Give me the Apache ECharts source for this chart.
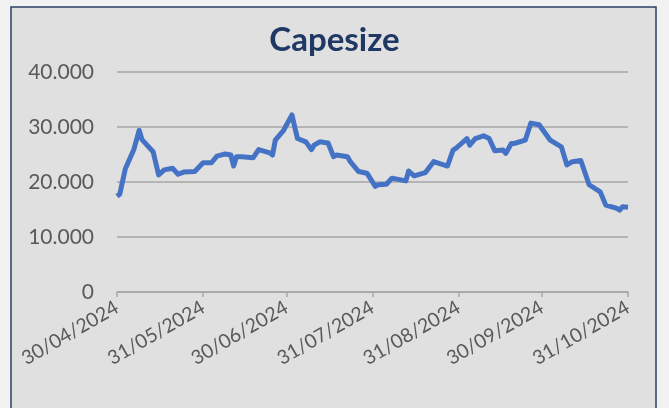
<!DOCTYPE html>
<html>
<head>
<meta charset="utf-8">
<script src="https://cdn.jsdelivr.net/npm/echarts@6/dist/echarts.min.js"></script>
<style>
  html, body { margin: 0; padding: 0; background: #f2f2f2; }
  #main { width: 669px; height: 408px; }
</style>
</head>
<body>
<div id="main"></div>
<script>
// Capesize rates
const dates = [
  '2024-04-30', '2024-05-01', '2024-05-03', '2024-05-06', '2024-05-08', '2024-05-09',
  '2024-05-13', '2024-05-15', '2024-05-17', '2024-05-20', '2024-05-22', '2024-05-24',
  '2024-05-28', '2024-05-31', '2024-06-03', '2024-06-05', '2024-06-08', '2024-06-10',
  '2024-06-11', '2024-06-12', '2024-06-14', '2024-06-18', '2024-06-20', '2024-06-24',
  '2024-06-25', '2024-06-26', '2024-06-29', '2024-07-02', '2024-07-03', '2024-07-04',
  '2024-07-07', '2024-07-09', '2024-07-10', '2024-07-12', '2024-07-15', '2024-07-17',
  '2024-07-18', '2024-07-22', '2024-07-23', '2024-07-26', '2024-07-29', '2024-08-01',
  '2024-08-02', '2024-08-05', '2024-08-07', '2024-08-12', '2024-08-13', '2024-08-15',
  '2024-08-19', '2024-08-22', '2024-08-27', '2024-08-29', '2024-08-30', '2024-09-01',
  '2024-09-03', '2024-09-04', '2024-09-06', '2024-09-09', '2024-09-11', '2024-09-13',
  '2024-09-16', '2024-09-17', '2024-09-19', '2024-09-20', '2024-09-24', '2024-09-26',
  '2024-09-29', '2024-10-03', '2024-10-07', '2024-10-09', '2024-10-11', '2024-10-14',
  '2024-10-17', '2024-10-21', '2024-10-23', '2024-10-27', '2024-10-28', '2024-10-29',
  '2024-10-31'
];
const capesize = [
  17400, 17800, 22400, 25800, 29400, 27700,
  25500, 21300, 22200, 22500, 21400, 21800,
  21900, 23500, 23500, 24700, 25100, 24900,
  22900, 24600, 24600, 24400, 25900, 25300,
  24900, 27600, 29400, 32200, 30000, 27900,
  27300, 25900, 26700, 27300, 27100, 24600,
  24900, 24600, 23700, 21900, 21600, 19200,
  19500, 19600, 20700, 20200, 22000, 21100,
  21700, 23700, 22900, 25800, 26100, 27000,
  27900, 26700, 27900, 28400, 27900, 25700,
  25800, 25200, 27000, 27000, 27600, 30700,
  30400, 27600, 26400, 23100, 23700, 23900,
  19500, 18200, 15800, 15200, 14900, 15500,
  15400
];
const tickDates = ['2024-04-30', '2024-05-31', '2024-06-30', '2024-07-31', '2024-08-31', '2024-09-30', '2024-10-31'];

const toTime = s => Date.UTC(+s.slice(0, 4), +s.slice(5, 7) - 1, +s.slice(8, 10));
const pad = n => String(n).padStart(2, '0');
const fmtDate = v => {
  const d = new Date(v);
  return pad(d.getUTCDate()) + '/' + pad(d.getUTCMonth() + 1) + '/' + d.getUTCFullYear();
};
const fmtNum = v => v === 0 ? '0' : String(v).replace(/\B(?=(\d{3})+(?!\d))/g, '.');

const chart = echarts.init(document.getElementById('main'));
const font = 'Lato';
const ticks = tickDates.map(toTime);

chart.setOption({
  backgroundColor: '#f2f2f2',
  animation: false,
  graphic: [{
    type: 'rect',
    z: -10,
    shape: { x: 11, y: 7, width: 645, height: 420 },
    style: { fill: '#e0e0e0', stroke: '#2b3f66', lineWidth: 1.5 }
  }],
  title: {
    text: 'Capesize',
    left: 'center',
    top: 19,
    textStyle: { fontFamily: font, fontWeight: 'bold', fontSize: 33, color: '#1f3864' }
  },
  grid: { left: 117, right: 41, top: 72, bottom: 116 },
  xAxis: {
    type: 'value',
    min: ticks[0],
    max: ticks[ticks.length - 1],
    axisLine: { lineStyle: { color: '#a6a6a6', width: 1.5 } },
    axisTick: { customValues: ticks, length: 5, lineStyle: { color: '#a6a6a6', width: 1.5 } },
    axisLabel: {
      customValues: ticks,
      rotate: 30,
      margin: 14,
      formatter: fmtDate,
      fontFamily: font,
      fontSize: 19.5,
      color: '#595959'
    },
    splitLine: { show: false }
  },
  yAxis: {
    type: 'value',
    min: 0,
    max: 40000,
    interval: 10000,
    axisLine: { show: false },
    axisTick: { show: false },
    axisLabel: { formatter: fmtNum, margin: 23, fontFamily: font, fontSize: 21, color: '#595959' },
    splitLine: { lineStyle: { color: '#a6a6a6', width: 1.5 } }
  },
  series: [{
    name: 'Capesize',
    type: 'line',
    data: dates.map((d, i) => [toTime(d), capesize[i]]),
    showSymbol: false,
    lineStyle: { color: '#4472c4', width: 5, join: 'round' },
    itemStyle: { color: '#4472c4' }
  }]
});
</script>
</body>
</html>
